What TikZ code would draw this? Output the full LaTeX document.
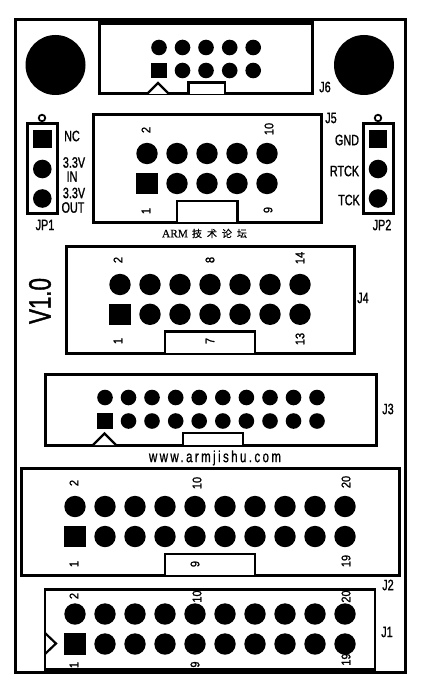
\documentclass[tikz,border=0pt]{standalone}
\usepackage{fontspec}
\setmainfont{Liberation Sans}
\newfontfamily\lab[FakeStretch=0.72,FakeBold=1.2]{Liberation Sans}
\newfontfamily\num[FakeStretch=0.88,FakeBold=1.3]{Liberation Sans}
\newfontfamily\wwwf[FakeStretch=0.72,FakeBold=0.8,LetterSpace=15]{Liberation Sans}
\newfontfamily\cjk[FakeBold=0.5]{Noto Sans CJK SC}
\newfontfamily\srf[FakeBold=0.3]{Liberation Serif}
\tikzset{
  board/.style={draw=black,line width=3pt,fill=white,minimum width=0,inner sep=0},
  box/.style={draw=black,line width=3pt,fill=white},
  tab/.style={draw=black,line width=2.6pt,fill=white},
  bigpin/.style={circle,fill=black,draw=none,minimum size=21.4pt,inner sep=0},
  bigsq/.style={rectangle,fill=black,draw=none,minimum size=21.5pt,inner sep=0},
  smallpin/.style={circle,fill=black,draw=none,minimum size=15.6pt,inner sep=0},
  smallsq/.style={rectangle,fill=black,draw=none,minimum size=15.4pt,inner sep=0},
  midpin/.style={circle,fill=black,draw=none,minimum size=18.6pt,inner sep=0},
  midsq/.style={rectangle,fill=black,draw=none,minimum size=18.6pt,inner sep=0},
  hole/.style={circle,fill=black,draw=none,minimum size=60pt,inner sep=0},
  ring/.style={circle,draw=black,line width=1.8pt,fill=white,minimum size=6.5pt,inner sep=0},
  lbl/.style={inner sep=0,font=\lab\fontsize{15}{15}\selectfont,text=black},
  pinno/.style={inner sep=0,rotate=90,font=\num\fontsize{12.5}{12.5}\selectfont,text=black},
}
\begin{document}
\begin{tikzpicture}[x=1pt,y=-1pt]
\useasboundingbox (0,0) rectangle (422,682);
\fill[white] (0,0) rectangle (422,682);
\draw[board] (15,20) rectangle (405,672);
% mounting holes
\node[hole] (holeL) at (55.5,65) {};
\node[hole] (holeR) at (364,65) {};
% J6
\draw[box] (99.5,24) rectangle (312,94);
\fill[black] (98,19) rectangle (313.5,25);
\draw[tab,line width=2.2pt,line join=miter] (147,94) -- (158,83) -- (169,94);
\draw[tab] (188.5,94) -- (188.5,82.5) -- (225,82.5) -- (225,94);
\node[smallsq] (j6a1) at (159,70.5) {};
\foreach \n/\x in {3/182.5,5/206,7/229.7,9/253.2}{\node[smallpin] (j6a\n) at (\x,70.5) {};}
\foreach \n/\x in {2/159,4/182.5,6/206,8/229.7,10/253.2}{\node[smallpin] (j6b\n) at (\x,47.5) {};}
\node[lbl] (j6) at (325,87) {J6};
% J5
\draw[box] (93,115) rectangle (321,222);
\draw[tab] (177,222) -- (177,201) -- (237.5,201) -- (237.5,222);
\node[bigsq] (j5a1) at (147,183.5) {};
\foreach \n/\x in {3/177,5/207,7/237,9/267}{\node[bigpin] (j5a\n) at (\x,183.5) {};}
\foreach \n/\x in {2/147,4/177,6/207,8/237,10/267}{\node[bigpin] (j5b\n) at (\x,153.5) {};}
\node[pinno] (j5t2) at (146,130) {2};
\node[pinno] (j5t10) at (269,129) {10};
\node[pinno] (j5t1) at (146,211) {1};
\node[pinno] (j5t9) at (268,210) {9};
\node[lbl] (j5) at (331,118) {J5};
% JP1
\node[ring] (r1) at (42,118) {};
\draw[box] (27,124) rectangle (57,213.5);
\draw[line width=1.8pt] (r1) -- (42,124);
\node[midsq] (jp1a) at (42.3,139) {};
\node[midpin] (jp1b) at (42.3,169) {};
\node[midpin] (jp1c) at (42.3,198.5) {};
\node[lbl] (tnc) at (72,136) {NC};
\node[lbl] (tv1) at (74,162.5) {3.3V};
\node[lbl] (tin) at (72,176.5) {IN};
\node[lbl] (tv2) at (74,193) {3.3V};
\node[lbl] (tout) at (73,207.5) {OUT};
\node[lbl] (jp1) at (45,225) {JP1};
% JP2
\node[ring] (r2) at (378,118) {};
\draw[box] (363,124) rectangle (393,213.5);
\draw[line width=1.8pt] (r2) -- (378,124);
\node[midsq] (jp2a) at (378,139) {};
\node[midpin] (jp2b) at (378,169) {};
\node[midpin] (jp2c) at (378,198.5) {};
\node[lbl] (tgnd) at (347,140) {GND};
\node[lbl] (trtck) at (344.5,171) {RTCK};
\node[lbl] (ttck) at (349,200) {TCK};
\node[lbl] (jp2) at (382,225) {JP2};
% caption
\node[inner sep=0] (arm) at (204.5,233.5) {\fontsize{11.4}{11.4}\selectfont\srf ARM\hspace{4pt}\cjk\fontsize{10}{10}\selectfont 技\hspace{5pt}术\hspace{5pt}论\hspace{5pt}坛};
% J4
\draw[box] (66,246) rectangle (354,353);
\draw[tab] (165,353) -- (165,331.5) -- (255,331.5) -- (255,353);
\node[bigsq] (j4a1) at (120,314.3) {};
\foreach \n/\x in {3/150,5/180,7/210,9/240,11/270,13/300}{\node[bigpin] (j4a\n) at (\x,314.3) {};}
\foreach \n/\x in {2/120,4/150,6/180,8/210,10/240,12/270,14/300}{\node[bigpin] (j4b\n) at (\x,284.5) {};}
\node[pinno] (j4t2) at (118,260) {2};
\node[pinno] (j4t8) at (210,260) {8};
\node[pinno] (j4t14) at (300,258) {14};
\node[pinno] (j4t1) at (118,341) {1};
\node[pinno] (j4t7) at (210,341) {7};
\node[pinno] (j4t13) at (300,339) {13};
\node[lbl] (j4) at (363,298) {J4};
\node[inner sep=0,rotate=90,font=\lab\fontsize{31}{31}\selectfont] (ver) at (40,301) {V1.0};
% J3
\draw[box] (45.5,374) rectangle (376,445);
\draw[tab,line width=2.2pt] (93,445) -- (104.5,433.5) -- (116,445);
\draw[tab] (183,445) -- (183,433) -- (243,433) -- (243,445);
\node[smallsq] (j3a1) at (105,421) {};
\foreach \n/\x in {3/128.5,5/152,7/175.7,9/199.2,11/222.8,13/246.4,15/270,17/293.5,19/317}{\node[smallpin] (j3a\n) at (\x,421) {};}
\foreach \n/\x in {2/105,4/128.5,6/152,8/175.7,10/199.2,12/222.8,14/246.4,16/270,18/293.5,20/317}{\node[smallpin] (j3b\n) at (\x,397.5) {};}
\node[lbl] (j3) at (388,409) {J3};
\node[inner sep=0,font=\wwwf\fontsize{16}{16}\selectfont] (www) at (215,458) {www.armjishu.com};
% J2
\draw[box] (21.5,468.5) rectangle (399,575);
\draw[tab] (165,575) -- (165,554) -- (255,554) -- (255,575);
\node[bigsq] (j2a1) at (75,536.5) {};
\foreach \n/\x in {3/105,5/135,7/165,9/195,11/225,13/255,15/285,17/315,19/345}{\node[bigpin] (j2a\n) at (\x,536.5) {};}
\foreach \n/\x in {2/75,4/105,6/135,8/165,10/195,12/225,14/255,16/285,18/315,20/345}{\node[bigpin] (j2b\n) at (\x,506.5) {};}
\node[pinno] (j2t2) at (74,483) {2};
\node[pinno] (j2t10) at (197,483) {10};
\node[pinno] (j2t20) at (346,482) {20};
\node[pinno] (j2t1) at (74,564) {1};
\node[pinno] (j2t9) at (195,564) {9};
\node[pinno] (j2t19) at (346,561) {19};
\node[lbl] (j2) at (388,585) {J2};
% J1
\fill[white] (45,589.5) rectangle (375,669.5);
\node[bigsq] (j1a1) at (75,644) {};
\foreach \n/\x in {3/105,5/135,7/165,9/195,11/225,13/255,15/285,17/315,19/345}{\node[bigpin] (j1a\n) at (\x,644) {};}
\foreach \n/\x in {2/75,4/105,6/135,8/165,10/195,12/225,14/255,16/285,18/315,20/345}{\node[bigpin] (j1b\n) at (\x,614) {};}
\begin{scope}
\clip (45,589.5) rectangle (375,669.5);
\node[pinno] (j1t2) at (74,596) {2};
\node[pinno] (j1t10) at (197,596.5) {10};
\node[pinno] (j1t20) at (346,596.5) {20};
\node[pinno] (j1t1) at (74,665) {1};
\node[pinno] (j1t9) at (195,664.5) {9};
\node[pinno] (j1t19) at (346,659.5) {19};
\end{scope}
\draw[line width=2.6pt] (45,589.5) rectangle (375,669.5);
\draw[tab,line width=2.2pt,fill=none] (45,633) -- (56,643.5) -- (45,654);
\node[lbl] (j1) at (387,632) {J1};
\end{tikzpicture}
\end{document}
